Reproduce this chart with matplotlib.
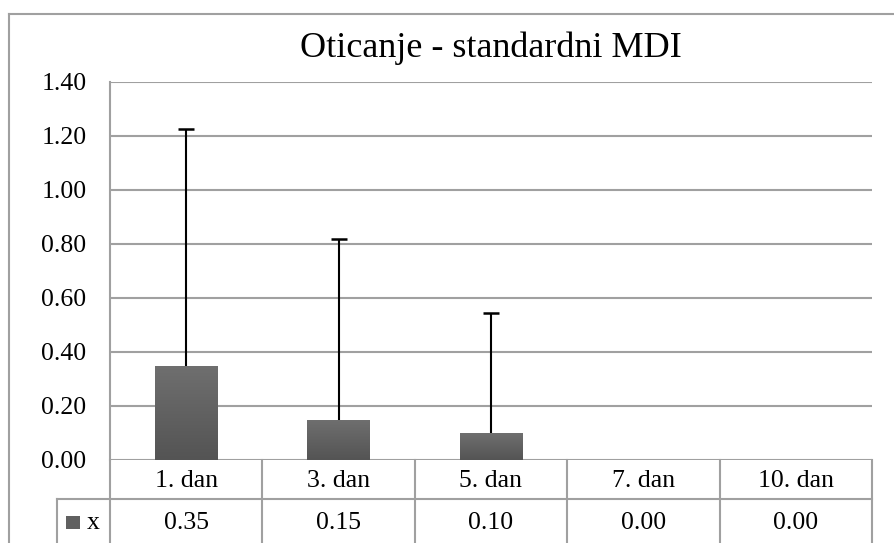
import numpy as np
import matplotlib.pyplot as plt
from matplotlib.patches import Rectangle

# podaci
categories = ["1. dan", "3. dan", "5. dan", "7. dan", "10. dan"]
values = [0.35, 0.15, 0.10, 0.00, 0.00]
errors = [0.875, 0.67, 0.445, 0.0, 0.0]
series_name = "x"
title = "Oticanje - standardni MDI"

W, H = 895, 543
FONT = "Liberation Serif"
grid_col = "#a0a0a0"

fig = plt.figure(figsize=(W / 100, H / 100), dpi=100)
fig.patch.set_facecolor("white")

# okvir grafikona (izlazi van slike desno i dolje)
fig.add_artist(plt.Line2D([9 / W, 9 / W], [0, 1 - 14 / H], transform=fig.transFigure,
                          color=grid_col, lw=1.5))
fig.add_artist(plt.Line2D([9 / W, 1], [1 - 14 / H, 1 - 14 / H], transform=fig.transFigure,
                          color=grid_col, lw=1.5))

# glavni grafikon
x0, x1, ytop, ybot = 110, 872, 82, 460
ax = fig.add_axes([x0 / W, 1 - ybot / H, (x1 - x0) / W, (ybot - ytop) / H])
x = np.arange(len(categories))
ax.set_xlim(-0.5, len(categories) - 0.5)
ax.set_ylim(0, 1.4)
ax.set_yticks(np.arange(0, 1.41, 0.2))
ax.set_yticklabels([f"{v:.2f}" for v in np.arange(0, 1.41, 0.2)], fontsize=18.5, family=FONT)
ax.tick_params(axis="y", length=0, pad=17)
ax.set_xticks([])
for s in ["top", "right", "bottom"]:
    ax.spines[s].set_visible(False)
ax.spines["left"].set_color(grid_col)
ax.spines["left"].set_linewidth(1.5)
ax.yaxis.grid(True, color=grid_col, lw=1.5)
ax.set_axisbelow(True)

# stupci s gradijentom
bars = ax.bar(x, values, width=0.41, color="#606060", zorder=2)
grad = np.linspace(0, 1, 100).reshape(-1, 1)
cmap = plt.cm.colors.LinearSegmentedColormap.from_list("g", ["#545454", "#6f6f6f"])
for b in bars:
    if b.get_height() <= 0:
        continue
    bx, by = b.get_x(), b.get_y()
    im = ax.imshow(grad, cmap=cmap, aspect="auto",
                   extent=[bx, bx + b.get_width(), by, by + b.get_height()],
                   origin="lower", zorder=3)
    im.set_clip_path(b)

# greške (samo prema gore)
tops = np.array(values) + np.array(errors)
mask = np.array(errors) > 0
ax.vlines(x[mask], np.array(values)[mask], tops[mask], color="black", lw=1.5, zorder=4)
ax.plot(x[mask], tops[mask], linestyle="none", marker="_", markersize=11.5,
        markeredgewidth=1.8, color="black", zorder=4)

# naslov
fig.text((x0 + x1) / 2 / W, 1 - 57 / H, title, ha="center", va="baseline",
         fontsize=26, family=FONT)

# tablica podataka
tax = fig.add_axes([x0 / W, 0, (x1 - x0) / W, (H - ybot) / H])
tax.set_xlim(-0.5, len(categories) - 0.5)
tax.set_ylim(0, H - ybot)
tax.axis("off")
row_y = (H - ybot) - 39
left_cell = -0.5 - (x0 - 57) / ((x1 - x0) / len(categories))
for k in range(len(categories) + 1):
    tax.plot([k - 0.5, k - 0.5], [0, H - ybot], color=grid_col, lw=1.5, clip_on=False)
tax.plot([left_cell, len(categories) - 0.5], [row_y, row_y], color=grid_col, lw=1.5, clip_on=False)
tax.plot([left_cell, left_cell], [0, row_y], color=grid_col, lw=1.5, clip_on=False)
for i, c in enumerate(categories):
    tax.text(i, (H - ybot + row_y) / 2 - 1.5, c, ha="center", va="center", fontsize=18.5, family=FONT)
    tax.text(i, row_y / 2 - 2, f"{values[i]:.2f}", ha="center", va="center", fontsize=18.5, family=FONT)
tax.add_patch(Rectangle((left_cell + 9 / 152.4, row_y / 2 - 8), 14 / 152.4, 13,
                        facecolor="#606060", edgecolor="none", clip_on=False))
tax.text(left_cell + 30 / 152.4, row_y / 2 - 2, series_name, ha="left", va="center",
         fontsize=18.5, family=FONT)

fig.savefig("out.png", dpi=100)
